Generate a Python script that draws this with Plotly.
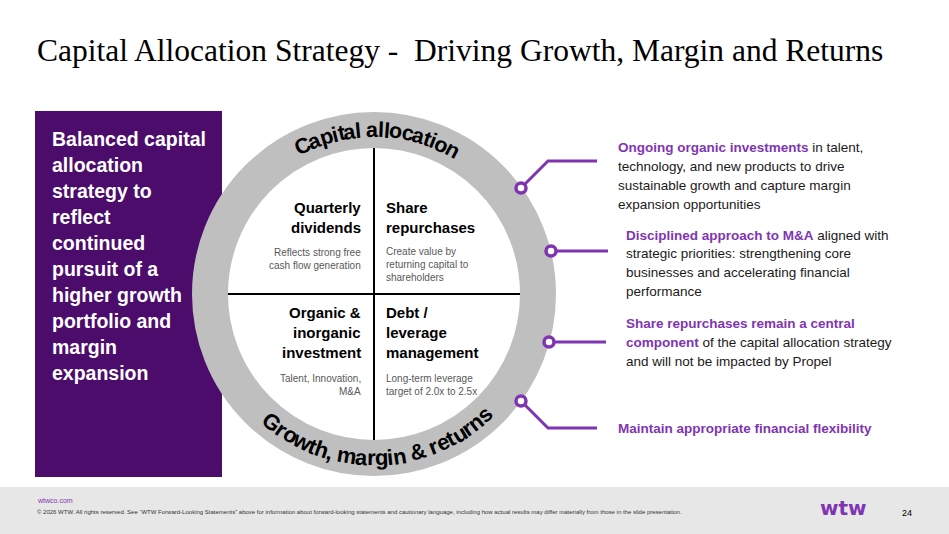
import numpy as np
from plotly import graph_objects as go

# ---- text content ----
TITLE = "Capital Allocation Strategy -\u00a0 Driving Growth, Margin and Returns"

box_lines = ["Balanced capital", "allocation", "strategy to", "reflect", "continued",
             "pursuit of a", "higher growth", "portfolio and", "margin", "expansion"]

ring_top = "Capital allocation"
ring_bottom = "Growth, margin & returns"

quad_titles = [["Quarterly", "dividends"],
               ["Share", "repurchases"],
               ["Organic &", "inorganic", "investment"],
               ["Debt /", "leverage", "management"]]
quad_notes = [["Reflects strong free", "cash flow generation"],
              ["Create value by", "returning capital to", "shareholders"],
              ["Talent, Innovation,", "M&A"],
              ["Long-term leverage", "target of 2.0x to 2.5x"]]

# each line is a list of (text, highlighted)
points = [
    [[("Ongoing organic investments", True), (" in talent,", False)],
     [("technology, and new products to drive", False)],
     [("sustainable growth and capture margin", False)],
     [("expansion opportunities", False)]],
    [[("Disciplined approach to M&A", True), (" aligned with", False)],
     [("strategic priorities: strengthening core", False)],
     [("businesses and accelerating financial", False)],
     [("performance", False)]],
    [[("Share repurchases remain a central", True)],
     [("component", True), (" of the capital allocation strategy", False)],
     [("and will not be impacted by Propel", False)]],
    [[("Maintain appropriate financial flexibility", True)]],
]

footer_url = "wtwco.com"
footer_note = ("\u00a9 2026 WTW. All rights reserved. See \u201cWTW Forward-Looking Statements\u201d above for "
               "information about forward-looking statements and cautionary language, including how actual "
               "results may differ materially from those in the slide presentation.")
logo = "wtw"
page_no = "24"

# ---- style / layout ----
W, H = 949, 534
DARK = "#4B0C6C"
PURPLE = "#7F35B2"
GRAY_RING = "#BFBFBF"
SANS = "Arial, Liberation Sans, sans-serif"
CX, CY = 374, 294
R_MID, RING_W = 164, 36
R_IN = R_MID - RING_W / 2

fig = go.Figure()

shapes = [
    dict(type="rect", x0=35, x1=222, y0=111, y1=477, fillcolor=DARK, line_width=0),
    dict(type="circle", x0=CX - R_MID, x1=CX + R_MID, y0=CY - R_MID, y1=CY + R_MID,
         fillcolor="white", line=dict(color=GRAY_RING, width=RING_W)),
    dict(type="line", x0=CX, x1=CX, y0=CY - R_IN, y1=CY + R_IN, line=dict(color="black", width=2)),
    dict(type="line", x0=CX - R_IN, x1=CX + R_IN, y0=CY, y1=CY, line=dict(color="black", width=2)),
    dict(type="rect", x0=0, x1=W, y0=487, y1=H, fillcolor="#E7E7E7", line_width=0),
]
for s in shapes:
    s["layer"] = "below"

ann = []


def text(x, y, s, size, color="black", bold=False, anchor="left", family=SANS, angle=0):
    if bold:
        s = "<b>" + s + "</b>"
    ann.append(dict(x=x, y=y, text=s, showarrow=False, xanchor=anchor, yanchor="middle",
                    textangle=angle, font=dict(family=family, size=size, color=color)))


# title
text(35, 50, TITLE, 31.5, family="Liberation Serif, Times New Roman, serif")

# left box
for i, line in enumerate(box_lines):
    text(50, 139 + i * 26, line, 19.5, color="white", bold=True)

# quadrants
quad_pos = [(363, 207, 252, "right"), (384, 207, 251, "left"),
            (363, 312, 378.5, "right"), (384, 312, 378.5, "left")]
for (x, yt, yn, anc), tl, nl in zip(quad_pos, quad_titles, quad_notes):
    for j, line in enumerate(tl):
        text(x, yt + j * 20, line, 15, bold=True, anchor=anc)
    for j, line in enumerate(nl):
        text(x, yn + j * 13, line, 10, color="#595959", anchor=anc)

# curved ring labels
W_BOLD = {' ': 278, 'C': 722, 'a': 556, 'p': 611, 'i': 278, 't': 333, 'l': 278, 'o': 611,
          'c': 556, 'n': 611, 'G': 778, 'r': 389, 'w': 778, 'h': 611, ',': 278, 'm': 889,
          'g': 611, '&': 722, 'e': 556, 'u': 611, 's': 556}


def arc_text(s, size, radius, mid_deg, spacing, bottom):
    widths = np.array([W_BOLD[c] / 1000 * size * spacing for c in s])
    centers = np.cumsum(widths) - widths / 2
    mid = (centers[0] + centers[-1]) / 2
    for ch, c in zip(s, centers):
        if ch == " ":
            continue
        a = mid_deg + np.degrees((c - mid) / radius)
        t = np.radians(a)
        x = CX + radius * np.sin(t)
        if bottom:
            y = CY + radius * np.cos(t)
            ang = -a
        else:
            y = CY - radius * np.cos(t)
            ang = a
        text(x, y, ch, size, bold=True, anchor="center", angle=ang)


arc_text(ring_top, 21.5, 164, 1.5, 0.95, bottom=False)
arc_text(ring_bottom, 22, 164, 2.0, 0.92, bottom=True)

# connectors
connectors = [[(521, 188), (548, 161), (597, 161)],
              [(551, 251), (608, 251)],
              [(549, 342), (606, 342)],
              [(521, 401), (548, 428), (597, 428)]]
for path in connectors:
    xs, ys = zip(*path)
    fig.add_trace(go.Scatter(x=xs, y=ys, mode="lines", line=dict(color=PURPLE, width=3),
                             hoverinfo="skip", showlegend=False))
fig.add_trace(go.Scatter(x=[p[0][0] for p in connectors], y=[p[0][1] for p in connectors],
                         mode="markers", hoverinfo="skip", showlegend=False,
                         marker=dict(size=10, color="white", line=dict(color=PURPLE, width=3.5))))

# right-hand points
point_pos = [(616, 147.3), (624, 235), (624, 323.3), (616, 428.3)]
for (x, y0), lines in zip(point_pos, points):
    for j, segs in enumerate(lines):
        s = "".join("<b><span style='color:%s'>%s</span></b>" % (PURPLE, t) if hl else t
                    for t, hl in segs)
        text(x, y0 + j * 18.9, s, 13.5, color="#1A1A1A")

# footer
text(35, 500, footer_url, 7, color=PURPLE)
text(35, 512, footer_note, 6.0, color="#333333")
text(843, 508, logo, 20, color=PURPLE, bold=True, anchor="center", family="DejaVu Sans")
text(907, 513, page_no, 9, anchor="center")

fig.update_layout(
    width=W, height=H, margin=dict(l=0, r=0, t=0, b=0),
    paper_bgcolor="white", plot_bgcolor="white",
    xaxis=dict(range=[0, W], visible=False, fixedrange=True),
    yaxis=dict(range=[H, 0], visible=False, fixedrange=True),
    shapes=shapes, annotations=ann,
)

fig.write_html("out.html", config={"displayModeBar": False},
               post_script="document.body.style.margin='0';")
